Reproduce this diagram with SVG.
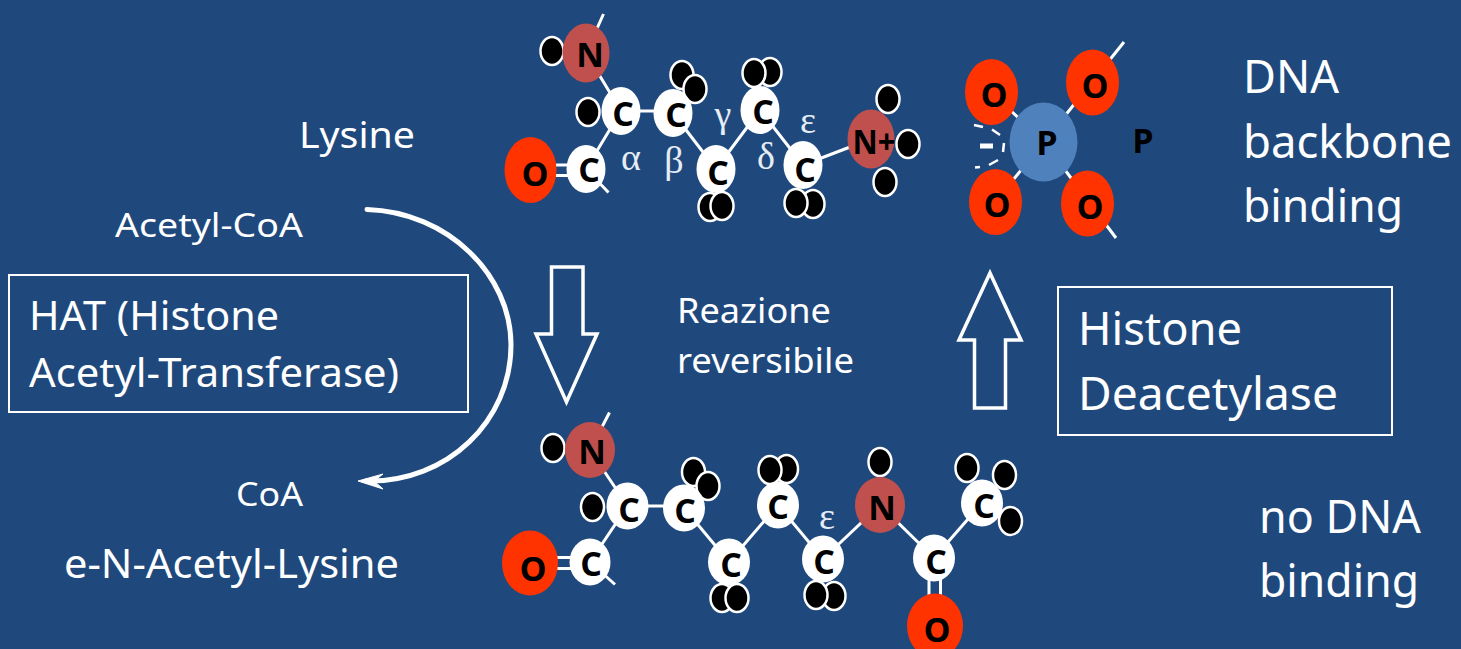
<svg xmlns="http://www.w3.org/2000/svg" width="1461" height="649" viewBox="0 0 1461 649">
<style>
.t{font-family:"Noto Sans","Open Sans","Liberation Sans",sans-serif;fill:#fff}
.a{font-family:"Open Sans","Liberation Sans",sans-serif;font-weight:700;font-size:34px;fill:#000;text-anchor:middle}
.g{font-family:"Liberation Serif",serif;font-size:38px;fill:#e6edf5;text-anchor:middle}
.b{stroke:#fff;stroke-width:3;fill:none}
.C{fill:#fff}.H{fill:#000;stroke:#fff;stroke-width:2.5}.O{fill:#ff3300}.N{fill:#c0504d}.P{fill:#4f81bd}
.box{fill:none;stroke:#fff;stroke-width:2}
.big{fill:none;stroke:#fff;stroke-width:3.5}
</style>
<rect width="1461" height="649" fill="#1f497d"/>
<g id="connectors">
<path class="b" d="M586,53L603.5,14M586,53L621,111M621,111H673M621,111L586,169M586,169L608.5,192.500M673,113L716,169M716,169L760,110M760,110L803,165M803,165L871,139"/>
<path class="b" d="M556,165H572M556,175.500H572"/>
<path class="b" d="M590,450L609.500,412.500M590,450L627.500,506M627.500,506H684M627.500,506L590,562M590,562L615,584.500M684,508L729,562M729,562L778,505M778,505L823,559M823,559L880,505M880,505L934,558M934,558L982,503"/>
<path class="b" d="M556,557.500H575M556,568.500H575M929,575V600M940.500,575V600"/>
<path class="b" d="M1044,142L991,92M1044,142L1124,42M1044,142L995,202M1044,142L1116,238"/>
<path d="M367,209.500C448,212 511,275 511,345C511,420 448,483 366,481" fill="none" stroke="#fff" stroke-width="5" stroke-linecap="round"/>
<path d="M358,481L383,474L374,481L383,489Z" fill="#fff" stroke="#fff" stroke-width="1"/>
</g>
<g id="dash"><path d="M974,125L983,127M992,129.500L1000,135M1004,143L1003,152M998,160L989,165M980,167L975,167.500" fill="none" stroke="#fff" stroke-width="2.500"/><rect x="980" y="143.500" width="13" height="5" fill="#fff"/></g>
<g id="arrow-down"><path class="big" d="M551.500,267H583V334H597L566.500,402L536,334H551.500Z"/></g>
<g id="arrow-up"><path class="big" d="M974.500,408V340H959L990,273L1021,340H1005.500V408Z"/></g>
<g id="box-hat"><rect class="box" x="9" y="275" width="459" height="137"/><text class="t" font-size="40" x="29" y="330" textLength="250" lengthAdjust="spacingAndGlyphs">HAT (Histone</text><text class="t" font-size="40" x="29" y="387" textLength="370" lengthAdjust="spacingAndGlyphs">Acetyl-Transferase)</text></g>
<g id="box-hdac"><rect class="box" x="1058" y="287" width="334" height="148"/><text class="t" font-size="45" x="1078" y="345" textLength="164" lengthAdjust="spacingAndGlyphs">Histone</text><text class="t" font-size="45" x="1078" y="410" textLength="260" lengthAdjust="spacingAndGlyphs">Deacetylase</text></g>
<g id="labels">
<text class="t" font-size="37" x="299" y="148" textLength="116" lengthAdjust="spacingAndGlyphs">Lysine</text>
<text class="t" font-size="33" x="115" y="237" textLength="188" lengthAdjust="spacingAndGlyphs">Acetyl-CoA</text>
<text class="t" font-size="33" x="236" y="506" textLength="67" lengthAdjust="spacingAndGlyphs">CoA</text>
<text class="t" font-size="40" x="64" y="578" textLength="335" lengthAdjust="spacingAndGlyphs">e-N-Acetyl-Lysine</text>
<text class="t" font-size="35" x="677" y="323" textLength="154" lengthAdjust="spacingAndGlyphs">Reazione</text>
<text class="t" font-size="35" x="677" y="373" textLength="177" lengthAdjust="spacingAndGlyphs">reversibile</text>
<text class="t" font-size="46" x="1243" y="93" textLength="96" lengthAdjust="spacingAndGlyphs">DNA</text>
<text class="t" font-size="46" x="1243" y="158" textLength="209" lengthAdjust="spacingAndGlyphs">backbone</text>
<text class="t" font-size="46" x="1243" y="222" textLength="160" lengthAdjust="spacingAndGlyphs">binding</text>
<text class="t" font-size="46" x="1259" y="533" textLength="162" lengthAdjust="spacingAndGlyphs">no DNA</text>
<text class="t" font-size="46" x="1259" y="597" textLength="160" lengthAdjust="spacingAndGlyphs">binding</text>
<text class="a" x="1143" y="153">P</text>
<text class="g" x="631" y="170">α</text>
<text class="g" x="674" y="173">β</text>
<text class="g" x="723" y="127">γ</text>
<text class="g" x="766" y="169">δ</text>
<text class="g" x="808" y="133">ε</text>
<text class="g" x="827" y="529">ε</text>
</g>
<g id="lysine">
<g id="l-h1"><ellipse class="H" cx="552" cy="51" rx="11.500" ry="14"/></g>
<g id="l-n1"><ellipse class="N" cx="586" cy="53" rx="23.500" ry="29.500"/><text class="a" x="590" y="67">N</text></g>
<g id="l-h2"><ellipse class="H" cx="588" cy="112" rx="11.500" ry="14"/></g>
<g id="l-o1"><ellipse class="O" cx="530.500" cy="170" rx="26" ry="33"/><text class="a" x="535" y="186">O</text></g>
<g id="l-c1"><ellipse class="C" cx="586" cy="169" rx="19.500" ry="24"/><text class="a" x="589" y="182">C</text></g>
<g id="l-c2"><ellipse class="C" cx="621" cy="111" rx="19.500" ry="24"/><text class="a" x="623" y="126">C</text></g>
<g id="l-h3"><ellipse class="H" cx="682" cy="75" rx="11.500" ry="14"/><ellipse class="H" cx="695" cy="89" rx="11.500" ry="14"/></g>
<g id="l-c3"><ellipse class="C" cx="673" cy="113" rx="19.500" ry="24"/><text class="a" x="676" y="127">C</text></g>
<g id="l-h4"><ellipse class="H" cx="710" cy="207" rx="11.500" ry="14"/><ellipse class="H" cx="722" cy="206" rx="11.500" ry="14"/></g>
<g id="l-c4"><ellipse class="C" cx="716" cy="169" rx="19.500" ry="24"/><text class="a" x="718" y="185">C</text></g>
<g id="l-h5"><ellipse class="H" cx="770" cy="72" rx="11.500" ry="14"/><ellipse class="H" cx="754" cy="73" rx="11.500" ry="14"/></g>
<g id="l-c5"><ellipse class="C" cx="760" cy="110" rx="19.500" ry="24"/><text class="a" x="763" y="124">C</text></g>
<g id="l-h6"><ellipse class="H" cx="813" cy="204" rx="11.500" ry="14"/><ellipse class="H" cx="796" cy="203" rx="11.500" ry="14"/></g>
<g id="l-c6"><ellipse class="C" cx="803" cy="165" rx="19.500" ry="24"/><text class="a" x="805" y="182">C</text></g>
<g id="l-h7"><ellipse class="H" cx="888" cy="99" rx="11.500" ry="14"/><ellipse class="H" cx="908" cy="144" rx="11.500" ry="14"/><ellipse class="H" cx="885" cy="182" rx="11.500" ry="14"/></g>
<g id="l-n2"><ellipse class="N" cx="871" cy="139" rx="23.500" ry="29.500"/><text class="a" x="874" y="154" textLength="43" lengthAdjust="spacingAndGlyphs">N+</text></g>
</g>
<g id="acetyl-lysine">
<g id="a-h1"><ellipse class="H" cx="553" cy="448" rx="11.500" ry="14"/></g>
<g id="a-n1"><ellipse class="N" cx="590" cy="450" rx="25" ry="28"/><text class="a" x="592" y="464">N</text></g>
<g id="a-h2"><ellipse class="H" cx="592.500" cy="507" rx="11.500" ry="14"/></g>
<g id="a-o1"><ellipse class="O" cx="530" cy="563" rx="28" ry="32.500"/><text class="a" x="533" y="581">O</text></g>
<g id="a-c1"><ellipse class="C" cx="590" cy="562" rx="20.500" ry="23.500"/><text class="a" x="591" y="576">C</text></g>
<g id="a-c2"><ellipse class="C" cx="627.500" cy="506" rx="21" ry="23.500"/><text class="a" x="629" y="522">C</text></g>
<g id="a-h3"><ellipse class="H" cx="693.500" cy="472" rx="11.500" ry="14"/><ellipse class="H" cx="708" cy="486" rx="11.500" ry="14"/></g>
<g id="a-c3"><ellipse class="C" cx="684" cy="508" rx="21" ry="23.500"/><text class="a" x="685" y="523">C</text></g>
<g id="a-h4"><ellipse class="H" cx="722" cy="598" rx="11.500" ry="14"/><ellipse class="H" cx="737" cy="598" rx="11.500" ry="14"/></g>
<g id="a-c4"><ellipse class="C" cx="729" cy="562" rx="21" ry="23.500"/><text class="a" x="731" y="577">C</text></g>
<g id="a-h5"><ellipse class="H" cx="786.500" cy="469" rx="11.500" ry="14"/><ellipse class="H" cx="770" cy="470" rx="11.500" ry="14"/></g>
<g id="a-c5"><ellipse class="C" cx="778" cy="505" rx="21" ry="23.500"/><text class="a" x="778" y="519">C</text></g>
<g id="a-h6"><ellipse class="H" cx="834" cy="596" rx="11.500" ry="14"/><ellipse class="H" cx="816" cy="595" rx="11.500" ry="14"/></g>
<g id="a-c6"><ellipse class="C" cx="823" cy="559" rx="21" ry="23.500"/><text class="a" x="824" y="574">C</text></g>
<g id="a-h7"><ellipse class="H" cx="880" cy="462" rx="11.500" ry="14"/></g>
<g id="a-n2"><ellipse class="N" cx="880" cy="505" rx="25" ry="28"/><text class="a" x="882" y="520">N</text></g>
<g id="a-c7"><ellipse class="C" cx="934" cy="558" rx="21" ry="23.500"/><text class="a" x="936" y="574">C</text></g>
<g id="a-o2"><ellipse class="O" cx="935" cy="626" rx="28" ry="32.500"/><text class="a" x="937" y="642">O</text></g>
<g id="a-h8"><ellipse class="H" cx="967" cy="468" rx="11.500" ry="14"/><ellipse class="H" cx="1004.500" cy="475" rx="11.500" ry="14"/><ellipse class="H" cx="1010.500" cy="521" rx="11.500" ry="14"/></g>
<g id="a-c8"><ellipse class="C" cx="982" cy="503" rx="21" ry="23.500"/><text class="a" x="984" y="518">C</text></g>
</g>
<g id="phosphate">
<g id="p-o1"><ellipse class="O" cx="991.500" cy="92" rx="26.500" ry="33"/><text class="a" x="994" y="107">O</text></g>
<g id="p-o2"><ellipse class="O" cx="1092.500" cy="82.500" rx="26.500" ry="33"/><text class="a" x="1095" y="98">O</text></g>
<g id="p-o3"><ellipse class="O" cx="995.500" cy="202" rx="26.500" ry="33"/><text class="a" x="997" y="217">O</text></g>
<g id="p-o4"><ellipse class="O" cx="1087.500" cy="203.500" rx="26.500" ry="33"/><text class="a" x="1090" y="219">O</text></g>
<g id="p-p"><ellipse class="P" cx="1043.500" cy="142" rx="34" ry="39.500"/><text class="a" x="1047" y="155">P</text></g>
</g>
</svg>
